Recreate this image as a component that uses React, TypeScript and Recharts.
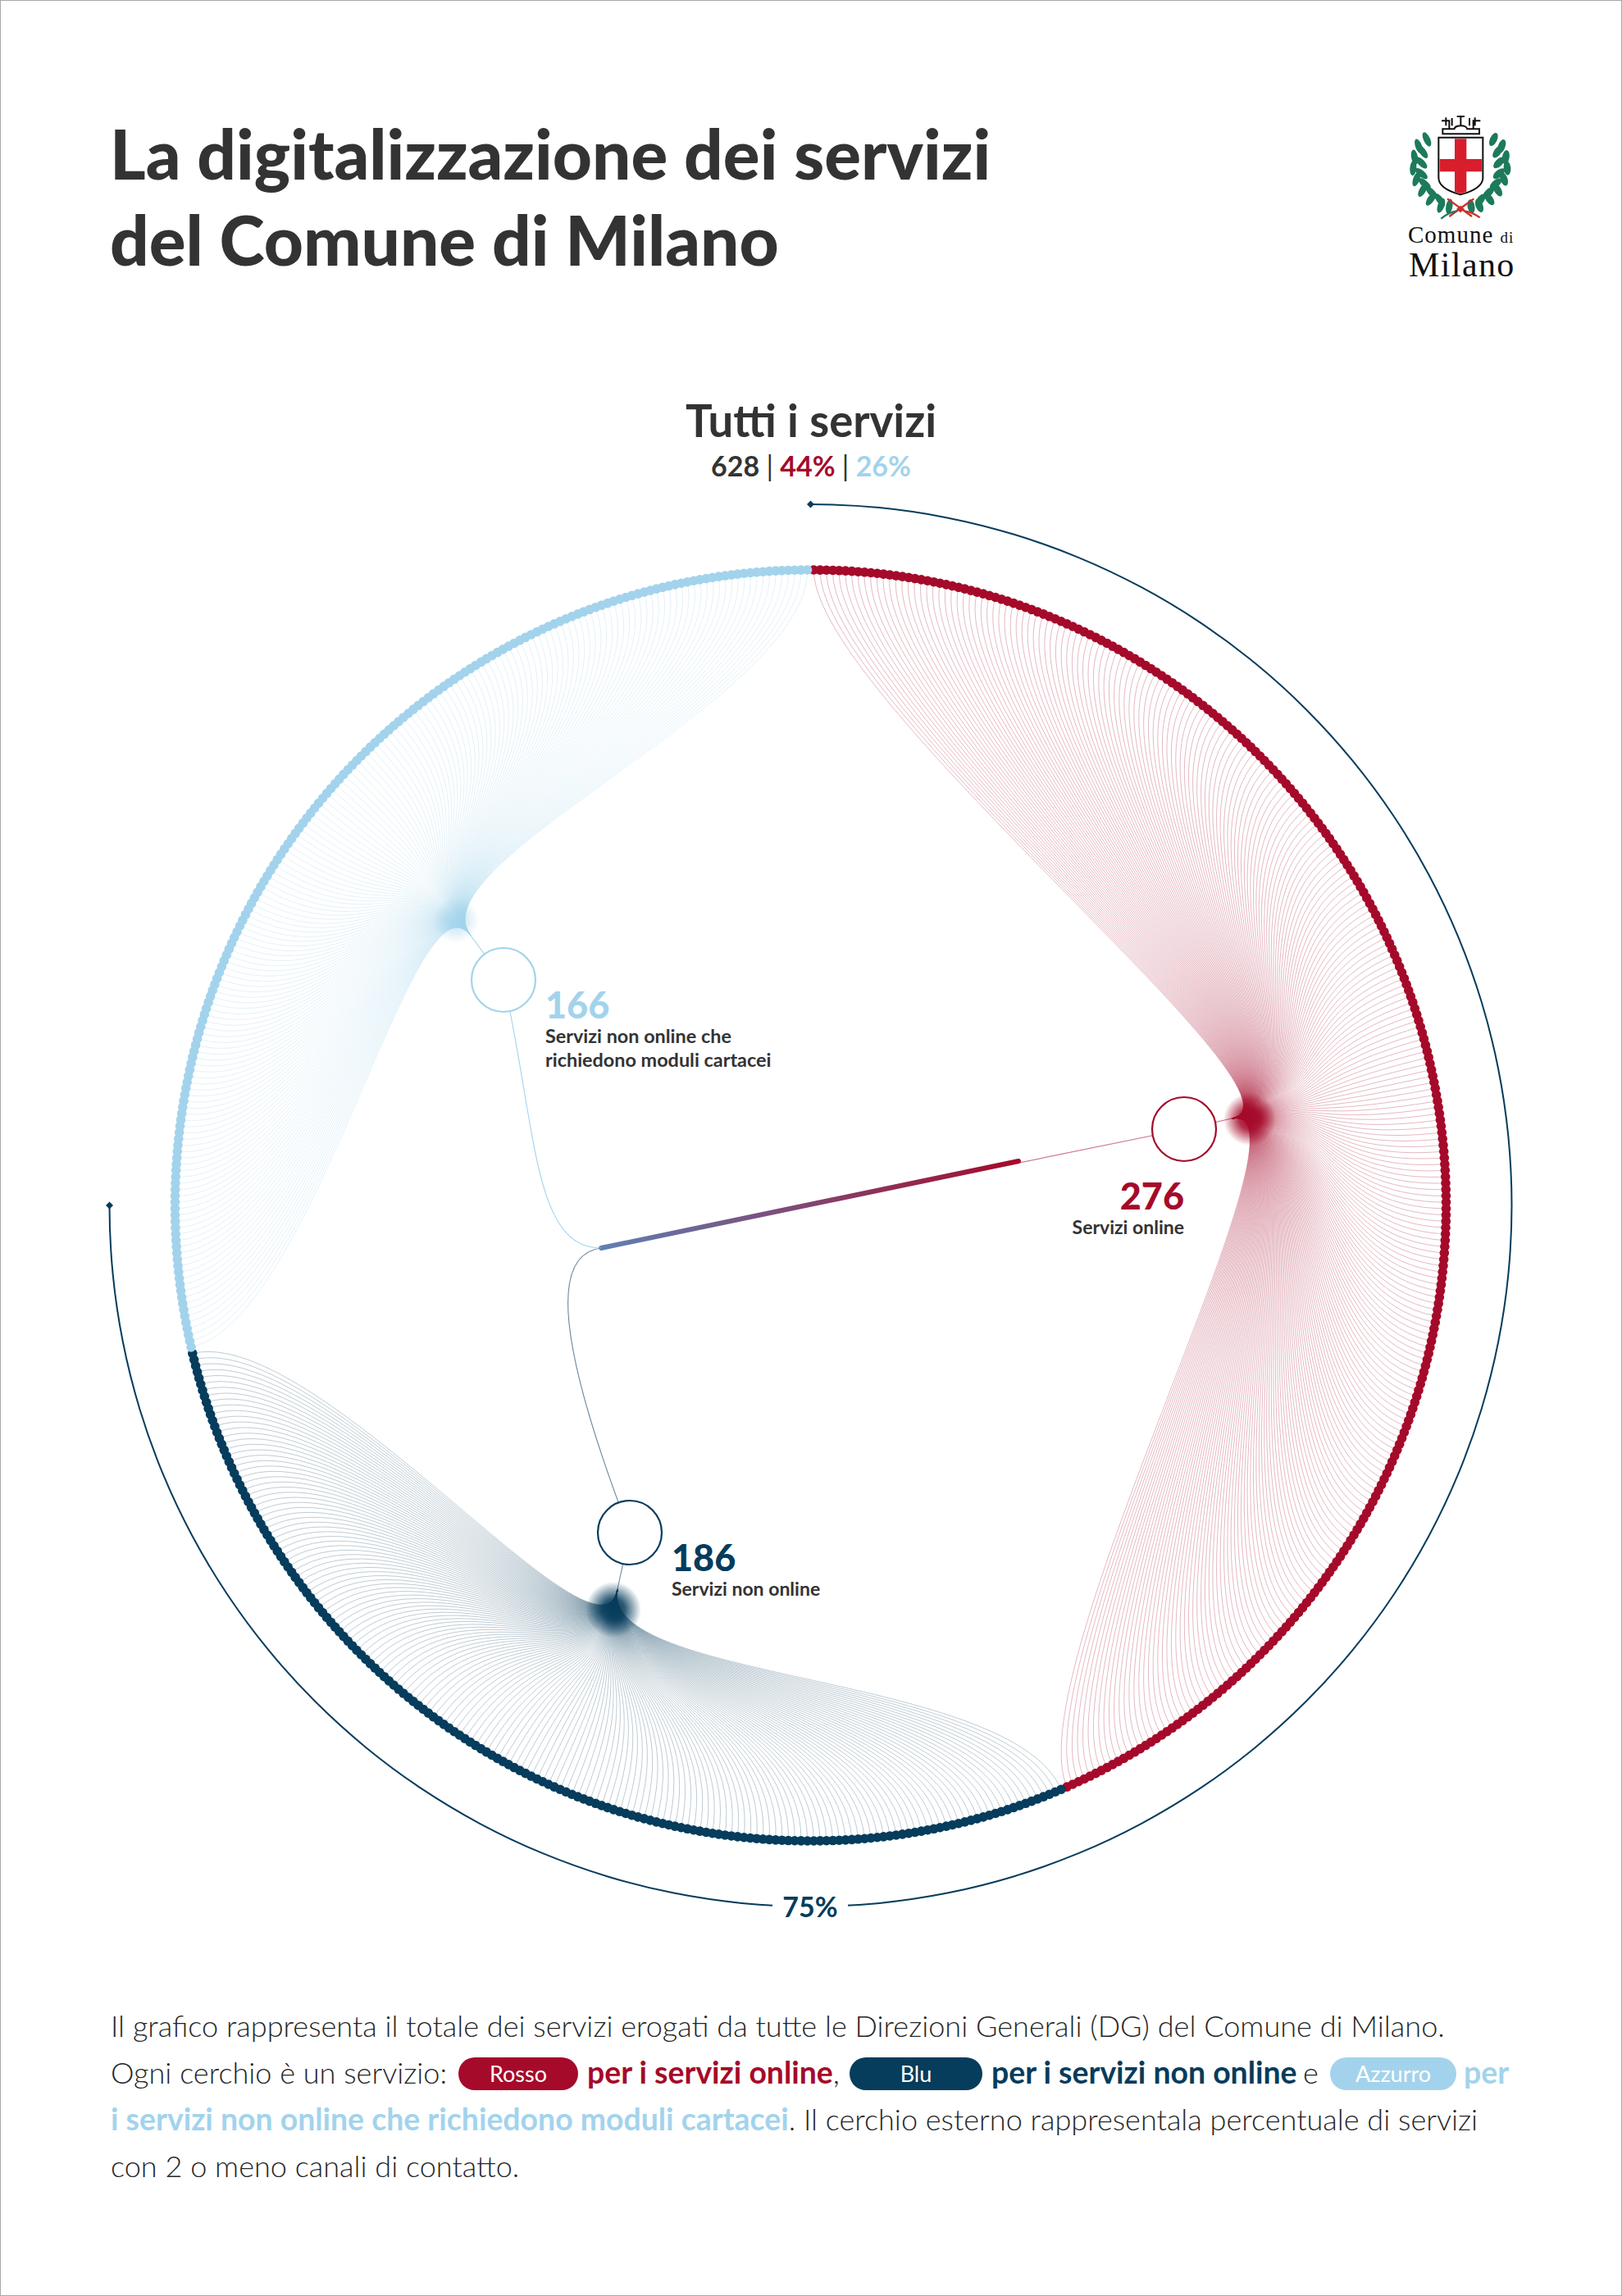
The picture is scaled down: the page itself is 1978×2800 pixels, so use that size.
import { Cell, Pie, PieChart, ReferenceLine, Scatter, ScatterChart, XAxis, YAxis } from 'recharts'

const WIDTH = 1978
const HEIGHT = 2800

// Data
const groupNames = ['Servizi online', 'Servizi non online', 'Servizi non online che richiedono moduli cartacei']
const groupTotals = [276, 186, 166]
const ringDots = [273, 175, 180]
const allServices = 628
const onlineShare = 44
const paperShare = 26
const outerShare = [75, 25]

const RED = '#a50a2a'
const NAVY = '#063c5c'
const SKY = '#a3d3ec'
const INK = '#333333'
const groupColors = [RED, NAVY, SKY]
const fanOpacity = [0.3, 0.28, 0.32]

// Layout of the wheel, in page pixels
const CX = 988.5
const CY = 1470
const RING_R = 775
const ARC_R = 855
const HUB_R = 39
const root = { x: 733, y: 1522 }
const barEnd = { x: 1242, y: 1416 }
// x, y: open circle; tx, ty: where the fan closes; cx, cy: shared control point of the fan
const hubs = [
  { x: 1444, y: 1377, tx: 1502, ty: 1364, cx: 1618, cy: 1342 },
  { x: 768, y: 1869, tx: 753, ty: 1938, cx: 731, cy: 2052 },
  { x: 614, y: 1195, tx: 574, ty: 1141, cx: 505, cy: 1051 },
]
// Dense knot just behind each fan's closing point
const knots = [
  { x: 1524, y: 1365, group: 0, r: 32 },
  { x: 748, y: 1963, group: 1, r: 34 },
  { x: 556, y: 1122, group: 2, r: 28 },
]
// Control points of the thin links from the root to each circle
const links = [
  null,
  { c1x: 670, c1y: 1530, c2x: 680, c2y: 1640 },
  { c1x: 650, c1y: 1522, c2x: 655, c2y: 1380 },
]
const INNER_PULL = 155

const FONT = 'Lato, "Noto Sans", sans-serif'
const LOGO_FONT = '"Liberation Serif", serif'

function polar(r: number, turn: number) {
  const a = turn * 2 * Math.PI
  return { x: CX + r * Math.sin(a), y: CY - r * Math.cos(a) }
}

interface RingDot {
  x: number
  y: number
  group: number
  turn: number
}

const totalDots = ringDots.reduce((a, b) => a + b, 0)
const ringData: RingDot[] = []
let seen = 0
ringDots.forEach((n, group) => {
  for (let i = 0; i < n; i++) {
    const turn = (seen + 0.5) / totalDots
    ringData.push({ ...polar(RING_R, turn), group, turn })
    seen++
  }
})

const arcEnds = [polar(ARC_R, 0), polar(ARC_R, outerShare[0] / 100)]
const hubData = hubs.map((h, group) => ({ x: h.x, y: h.y, group }))

function FanLine(props: any) {
  const { cx, cy, payload } = props
  const hub = hubs[payload.group]
  const inner = polar(RING_R - INNER_PULL, payload.turn)
  return (
    <path
      d={`M${cx},${cy}C${inner.x},${inner.y} ${hub.cx},${hub.cy} ${hub.tx},${hub.ty}`}
      fill="none"
      stroke={groupColors[payload.group]}
      strokeOpacity={fanOpacity[payload.group]}
      strokeWidth={0.95}
    />
  )
}

function KnotMark(props: any) {
  const { cx, cy, payload } = props
  return <circle cx={cx} cy={cy} r={payload.r} fill={`url(#knot${payload.group})`} />
}

function RingMark(props: any) {
  const { cx, cy, payload } = props
  return <circle cx={cx} cy={cy} r={5.8} fill={groupColors[payload.group]} />
}

// Thin stem from the circle to the fan and, for two groups, the curved link back to the root
function HubLink(props: any) {
  const { cx, cy, payload } = props
  const hub = hubs[payload.group]
  const link = links[payload.group]
  const color = groupColors[payload.group]
  const opacity = payload.group === 2 ? 1 : 0.6
  return (
    <g fill="none" stroke={color} strokeOpacity={opacity} strokeWidth={1.1}>
      <path d={`M${cx},${cy}L${hub.tx},${hub.ty}`} />
      {link && <path d={`M${root.x},${root.y}C${link.c1x},${link.c1y} ${link.c2x},${link.c2y} ${cx},${cy}`} />}
    </g>
  )
}

function HubMark(props: any) {
  const { cx, cy, payload } = props
  return <circle cx={cx} cy={cy} r={HUB_R} fill="#fff" stroke={groupColors[payload.group]} strokeWidth={2.2} />
}

function Diamond(props: any) {
  const { cx, cy } = props
  return <path d={`M${cx - 4.5},${cy}L${cx},${cy - 4.5}L${cx + 4.5},${cy}L${cx},${cy + 4.5}Z`} fill={NAVY} />
}

// Leaves of the wreath: position along the branch and angle, one side of the crest
const leafSpots = [
  [180, 150, -25], [150, 175, -20], [165, 195, -35], [135, 215, -10], [160, 235, -45],
  [130, 255, 5], [160, 275, -50], [142, 295, 20], [172, 312, -50], [165, 335, 30],
  [198, 345, -45], [195, 368, 35], [228, 372, -35], [232, 392, 20], [262, 395, 10],
]

function Crest() {
  return (
    <svg width={200} height={230} viewBox="0 0 600 690" style={{ position: 'absolute', left: 1680, top: 120 }}>
      <g fill="#1d7a5a">
        {leafSpots.map(([x, y, a], i) => (
          <g key={i}>
            <ellipse cx={x} cy={y} rx={12} ry={28} transform={`rotate(${a} ${x} ${y})`} />
            <ellipse cx={604 - x} cy={y} rx={13} ry={26} transform={`rotate(${-a} ${604 - x} ${y})`} />
          </g>
        ))}
      </g>
      <g fill="none" stroke="#111" strokeWidth={6}>
        <path d="M234,82H262V112M250,100V70M272,100V72M290,66H318M304,66V100M336,100V72M350,112V82H376M356,100V70" />
        <path d="M238,130V112H280Q284,100 304,100Q324,100 328,112H372V130Z" />
      </g>
      <path d="M223,143H385V290Q385,330 303,352Q223,330 223,290Z" fill="#fff" stroke="#111" strokeWidth={6} />
      <path d="M282,148H325V222H381V268H325V342L303,348L282,342V268H227V222H282Z" fill="#d81e2c" />
      <g fill="none" strokeWidth={7}>
        <path d="M255,367L345,432" stroke="#c9302c" />
        <path d="M352,367L262,432" stroke="#c9302c" />
        <path d="M232,440Q262,415 290,412" stroke="#1d7a5a" />
        <path d="M374,436Q345,415 318,412" stroke="#c9302c" />
      </g>
      <path d="M288,405L303,392L318,405L303,418Z" fill="#c9302c" />
    </svg>
  )
}

const abs = (left: number, top: number): React.CSSProperties => ({
  position: 'absolute',
  left,
  top,
  whiteSpace: 'nowrap',
  fontFamily: FONT,
})

const BODY = 36.1
const BODY_BOLD = 37.4
const BODY_INK = '#262626'

function Pill({ left, width, top, color, label }: { left: number; width: number; top: number; color: string; label: string }) {
  return (
    <div
      style={{
        ...abs(left, top),
        width,
        height: 40,
        lineHeight: '40px',
        borderRadius: 20,
        background: color,
        color: '#fff',
        textAlign: 'center',
        fontSize: 27,
      }}
    >
      {label}
    </div>
  )
}

export default function App() {
  return (
    <div
      style={{
        position: 'absolute',
        left: 0,
        top: 0,
        width: WIDTH,
        height: HEIGHT,
        background: '#fff',
        overflow: 'hidden',
        color: INK,
      }}
    >
      <div style={{ ...abs(134, 134), fontSize: 83.6, fontWeight: 900, lineHeight: '105px' }}>
        La digitalizzazione dei servizi
        <br />
        del Comune di Milano
      </div>
      <Crest />
      <div style={{ ...abs(1717, 272), fontFamily: LOGO_FONT, fontSize: 29, letterSpacing: 1, color: '#111', lineHeight: '28px', height: 28 }}>
        Comune <span style={{ fontSize: 19, lineHeight: '19px' }}>di</span>
      </div>
      <div style={{ ...abs(1718, 305), fontFamily: LOGO_FONT, fontSize: 42, letterSpacing: 1.4, color: '#111', lineHeight: '36px', height: 36 }}>Milano</div>

      <div style={{ position: 'absolute', left: 0, top: 0 }}>
        <PieChart width={WIDTH} height={HEIGHT} margin={{ top: 0, right: 0, bottom: 0, left: 0 }}>
          <Pie
            data={outerShare.map((value) => ({ value }))}
            dataKey="value"
            cx={CX}
            cy={CY}
            startAngle={90}
            endAngle={-270}
            innerRadius={ARC_R - 1}
            outerRadius={ARC_R + 1}
            stroke="none"
            isAnimationActive={false}
          >
            <Cell fill={NAVY} />
            <Cell fill="transparent" />
          </Pie>
        </PieChart>
      </div>

      <div style={{ position: 'absolute', left: 0, top: 0 }}>
        <ScatterChart width={WIDTH} height={HEIGHT} margin={{ top: 0, right: 0, bottom: 0, left: 0 }}>
          <defs>
            <linearGradient id="rootBar" x1="0" y1="0" x2="1" y2="0">
              <stop offset="0%" stopColor="#5f7fb4" />
              <stop offset="100%" stopColor={RED} />
            </linearGradient>
            {groupColors.map((color, i) => (
              <radialGradient key={color} id={`knot${i}`}>
                <stop offset="0%" stopColor={color} stopOpacity={i === 2 ? 0.6 : 1} />
                <stop offset="40%" stopColor={color} stopOpacity={i === 2 ? 0.45 : 0.85} />
                <stop offset="100%" stopColor={color} stopOpacity={0} />
              </radialGradient>
            ))}
          </defs>
          <XAxis type="number" dataKey="x" domain={[0, WIDTH]} hide />
          <YAxis type="number" dataKey="y" domain={[0, HEIGHT]} reversed hide />
          <Scatter data={ringData} shape={FanLine} isAnimationActive={false} />
          <Scatter data={knots} shape={KnotMark} isAnimationActive={false} />
          <Scatter data={ringData} shape={RingMark} isAnimationActive={false} />
          <Scatter data={hubData} shape={HubLink} isAnimationActive={false} />
          <ReferenceLine segment={[root, hubs[0]]} stroke={RED} strokeOpacity={0.55} strokeWidth={1.2} />
          <ReferenceLine segment={[root, barEnd]} stroke="url(#rootBar)" strokeWidth={6} strokeLinecap="round" />
          <Scatter data={hubData} shape={HubMark} isAnimationActive={false} />
          <Scatter data={arcEnds} shape={Diamond} isAnimationActive={false} />
        </ScatterChart>
      </div>

      <div style={{ ...abs(0, 480), width: WIDTH, textAlign: 'center', fontSize: 54.5, fontWeight: 700, lineHeight: '64px' }}>Tutti i servizi</div>
      <div style={{ ...abs(0, 548), width: WIDTH, textAlign: 'center', fontSize: 34, fontWeight: 700, lineHeight: '40px' }}>
        {allServices} <span style={{ fontWeight: 400 }}>|</span> <span style={{ color: RED }}>{onlineShare}%</span>{' '}
        <span style={{ fontWeight: 400 }}>|</span> <span style={{ color: SKY }}>{paperShare}%</span>
      </div>

      <div style={{ ...abs(1300, 1436), width: 144, textAlign: 'right', color: RED, fontSize: 45, fontWeight: 900, lineHeight: '44px' }}>{groupTotals[0]}</div>
      <div style={{ ...abs(1200, 1483), width: 244, textAlign: 'right', fontSize: 23, fontWeight: 700, lineHeight: '26px' }}>{groupNames[0]}</div>
      <div style={{ ...abs(819, 1877), color: NAVY, fontSize: 45, fontWeight: 900, lineHeight: '44px' }}>{groupTotals[1]}</div>
      <div style={{ ...abs(819, 1924), fontSize: 23, fontWeight: 700, lineHeight: '26px' }}>{groupNames[1]}</div>
      <div style={{ ...abs(665, 1203), color: SKY, fontSize: 45, fontWeight: 900, lineHeight: '44px' }}>{groupTotals[2]}</div>
      <div style={{ ...abs(665, 1249), fontSize: 23.4, fontWeight: 700, lineHeight: '29px' }}>
        Servizi non online che
        <br />
        richiedono moduli cartacei
      </div>

      <div style={{ ...abs(942, 2305), width: 92, textAlign: 'center', background: '#fff', color: NAVY, fontSize: 34, fontWeight: 700, lineHeight: '40px' }}>{outerShare[0]}%</div>

      <div style={{ ...abs(135, 2448), fontSize: BODY, lineHeight: '44px', fontWeight: 300, color: BODY_INK }}>
        Il grafico rappresenta il totale dei servizi erogati da tutte le Direzioni Generali (DG) del Comune di Milano.
      </div>
      <div style={{ ...abs(135, 2505), fontSize: BODY, lineHeight: '44px', fontWeight: 300, color: BODY_INK }}>Ogni cerchio è un servizio:</div>
      <Pill left={559} top={2509} width={146} color={RED} label="Rosso" />
      <div style={{ ...abs(716, 2505), fontSize: BODY_BOLD, lineHeight: '44px', fontWeight: 700, color: RED }}>
        per i servizi online<span style={{ color: BODY_INK, fontWeight: 300 }}>,</span>
      </div>
      <Pill left={1036} top={2509} width={162} color={NAVY} label="Blu" />
      <div style={{ ...abs(1209, 2505), fontSize: BODY_BOLD, lineHeight: '44px', fontWeight: 700, color: NAVY }}>per i servizi non online</div>
      <div style={{ ...abs(1589, 2505), fontSize: BODY, lineHeight: '44px', fontWeight: 300, color: BODY_INK }}>e</div>
      <Pill left={1622} top={2509} width={154} color={SKY} label="Azzurro" />
      <div style={{ ...abs(1785, 2505), fontSize: BODY_BOLD, lineHeight: '44px', fontWeight: 700, color: SKY }}>per</div>
      <div style={{ ...abs(135, 2562), fontSize: BODY, lineHeight: '44px', fontWeight: 300, color: BODY_INK }}>
        <span style={{ fontWeight: 700, color: SKY, fontSize: BODY_BOLD }}>i servizi non online che richiedono moduli cartacei</span>. Il cerchio esterno rappresentala percentuale di servizi
      </div>
      <div style={{ ...abs(135, 2619), fontSize: BODY, lineHeight: '44px', fontWeight: 300, color: BODY_INK }}>con 2 o meno canali di contatto.</div>

      <div style={{ position: 'absolute', inset: 0, border: '1.5px solid #a8a8a8', boxSizing: 'border-box', pointerEvents: 'none' }} />
    </div>
  )
}
